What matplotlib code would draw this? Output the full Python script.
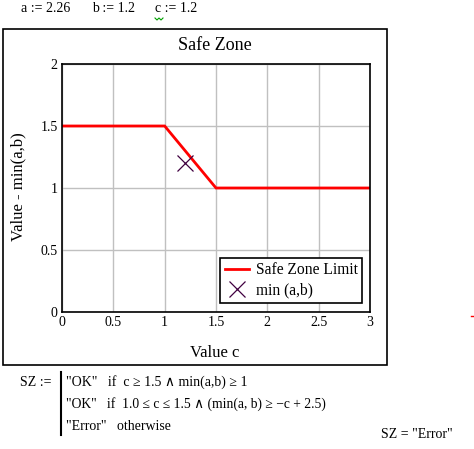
import matplotlib
matplotlib.use("Agg")
import matplotlib.pyplot as plt
from matplotlib.lines import Line2D
from matplotlib.patches import Rectangle

# Data
limit_c = [0, 1, 1.5, 3]
limit_v = [1.5, 1.5, 1.0, 1.0]
point_c = [1.2]
point_v = [1.2]
xticks = [0, 0.5, 1, 1.5, 2, 2.5, 3]
xticklabels = ["0", "0.5", "1", "1.5", "2", "2.5", "3"]
yticks = [0, 0.5, 1, 1.5, 2]
yticklabels = ["0", "0.5", "1", "1.5", "2"]

W, H = 474, 449
plt.rcParams['font.family'] = ['Liberation Serif', 'DejaVu Serif']
fig = plt.figure(figsize=(W / 100, H / 100), dpi=100)

def fx(x):
    return x / W

def fy(y):
    return 1 - y / H

# outer frame
fig.add_artist(Rectangle((fx(3), fy(365)), fx(387) - fx(3), fy(29) - fy(365),
                         fill=False, edgecolor='black', linewidth=1.2,
                         transform=fig.transFigure))

ax = fig.add_axes([fx(62), fy(312), fx(370) - fx(62), fy(64) - fy(312)])
ax.plot(limit_c, limit_v, color='red', linewidth=2, label='Safe Zone Limit',
        solid_joinstyle='miter')
ax.plot(point_c, point_v, linestyle='none', marker='x', markersize=11,
        markeredgewidth=0.9, color='#400040', label='min (a,b)')
ax.set_xlim(0, 3)
ax.set_ylim(0, 2)
ax.set_xticks(xticks)
ax.set_xticklabels(xticklabels)
ax.set_yticks(yticks)
ax.set_yticklabels(yticklabels)
ax.tick_params(length=0, labelsize=10, pad=3)
ax.grid(True, color='#c0c0c0', linewidth=1)
ax.set_axisbelow(True)
for s in ax.spines.values():
    s.set_linewidth(1.2)
    s.set_color('black')

leg = ax.legend(loc='lower right', bbox_to_anchor=(0.975, 0.0363),
                fontsize=11.2, frameon=True, fancybox=False, edgecolor='black',
                framealpha=1, borderpad=0.3, handlelength=1.6,
                handletextpad=0.4, labelspacing=0.25, borderaxespad=0)
leg.get_frame().set_linewidth(1.2)

fig.text(fx(215), fy(46), "Safe Zone", ha='center', va='center', fontsize=13)
fig.text(fx(215), fy(353), "Value c", ha='center', va='center', fontsize=12)
fig.text(fx(18), fy(187), "Value - min(a,b)", ha='center', va='center',
         fontsize=12, rotation=90)

# header
fig.text(fx(21), fy(8), "a := 2.26", ha='left', va='center', fontsize=10)
fig.text(fx(92), fy(8), "b := 1.2", ha='left', va='center', fontsize=10)
fig.text(fx(155), fy(8), "c := 1.2", ha='left', va='center', fontsize=10)
fig.add_artist(Line2D([fx(155), fx(157), fx(159), fx(161), fx(163)],
                      [fy(18), fy(20), fy(18), fy(20), fy(18)],
                      color='#00a000', linewidth=0.8))

# red tick at right
fig.add_artist(Line2D([fx(471), fx(474)], [fy(316), fy(316)], color='red',
                      linewidth=1))

# bottom program block
fig.text(fx(20), fy(382), "SZ :=", ha='left', va='center', fontsize=10)
fig.add_artist(Line2D([fx(61), fx(61)], [fy(372), fy(435)], color='black',
                      linewidth=1.5))
fig.text(fx(66), fy(382), "\"OK\"   if  c \u2265 1.5 \u2227 min(a,b) \u2265 1",
         ha='left', va='center', fontsize=10)
fig.text(fx(66), fy(404),
         "\"OK\"   if  1.0 \u2264 c \u2264 1.5 \u2227 (min(a, b) \u2265 \u2212c + 2.5)",
         ha='left', va='center', fontsize=9.8)
fig.text(fx(66), fy(426), "\"Error\"   otherwise", ha='left', va='center',
         fontsize=10)
fig.text(fx(381), fy(434), "SZ = \"Error\"", ha='left', va='center',
         fontsize=10)

fig.savefig("out.png", dpi=100)
